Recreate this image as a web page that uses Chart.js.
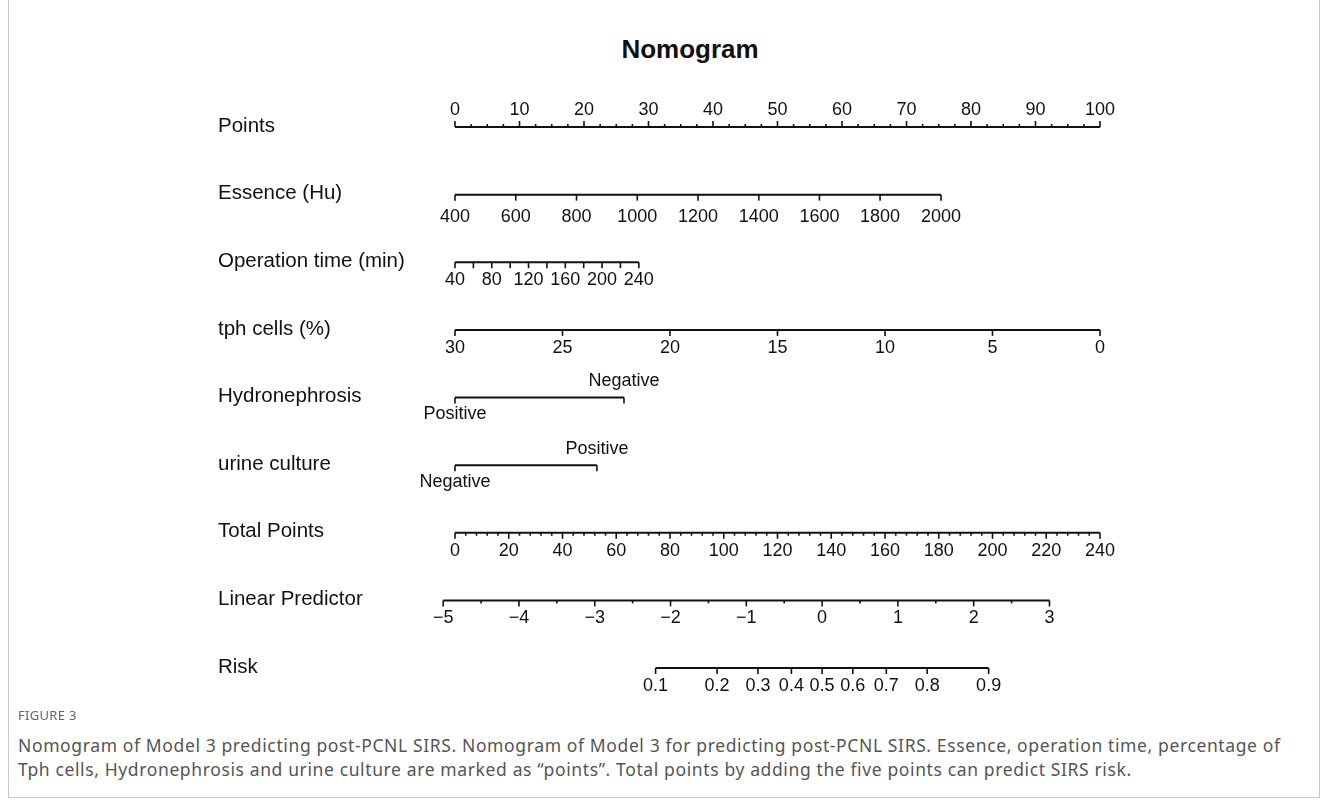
<!DOCTYPE html>
<html>
<head>
<meta charset="utf-8">
<script src="https://cdn.jsdelivr.net/npm/chart.js@4.4.1/dist/chart.umd.min.js"></script>
<style>
  html, body { margin: 0; padding: 0; background: #fff; }
  #frame { position: absolute; left: 8px; top: -2px; width: 1312px; height: 800px; border: 1px solid #c9c9c9; box-sizing: border-box; }
  #title { position: absolute; left: 0; top: 34px; width: 1380px; text-align: center; font: bold 26px "Liberation Sans", Arial, sans-serif; color: #111; }
  #wrap { position: absolute; left: 0; top: 0; width: 1328px; height: 710px; }
  #figno { position: absolute; left: 18px; top: 706px; font: 13px "Noto Sans", sans-serif; color: #666; letter-spacing: 0.3px; }
  #caption { position: absolute; left: 18px; top: 733px; width: 1300px; white-space: nowrap; font: 17.5px/24px "Noto Sans", sans-serif; letter-spacing: 0.62px; color: #555; }
</style>
</head>
<body>
<div id="frame"></div>
<div id="title">Nomogram</div>
<div id="wrap"><canvas id="nomo"></canvas></div>
<div id="figno">FIGURE 3</div>
<div id="caption">Nomogram of Model 3 predicting post-PCNL SIRS. Nomogram of Model 3 for predicting post-PCNL SIRS. Essence, operation time, percentage of<br>Tph cells, Hydronephrosis and urine culture are marked as “points”. Total points by adding the five points can predict SIRS risk.</div>
<script>
// ── DATA ───────────────────────────────────────────────────────────────────
const rowNames = ["Points", "Essence (Hu)", "Operation time (min)", "tph cells (%)",
  "Hydronephrosis", "urine culture", "Total Points", "Linear Predictor", "Risk"];

const pointsTicks = [0, 10, 20, 30, 40, 50, 60, 70, 80, 90, 100];
const pointsMinorStep = 2.5;

const essenceValues = [400, 600, 800, 1000, 1200, 1400, 1600, 1800, 2000];
const essencePoints = [0, 9.42, 18.84, 28.26, 37.68, 47.1, 56.5, 65.9, 75.35];

const opTimeValues = [40, 60, 80, 100, 120, 140, 160, 180, 200, 220, 240];
const opTimePoints = [0, 2.85, 5.7, 8.55, 11.4, 14.25, 17.1, 19.95, 22.8, 25.65, 28.5];
const opTimeLabelled = [40, 80, 120, 160, 200, 240];

const tphValues = [30, 25, 20, 15, 10, 5, 0];
const tphPoints = [0, 16.67, 33.33, 50, 66.67, 83.33, 100];

const hydroLevels = ["Positive", "Negative"];
const hydroPoints = [0, 26.2];

const urineLevels = ["Negative", "Positive"];
const urinePoints = [0, 22.0];

const totalTicks = [0, 20, 40, 60, 80, 100, 120, 140, 160, 180, 200, 220, 240];
const totalMinorStep = 4;
const totalMax = 240;

const lpTicks = [-5, -4, -3, -2, -1, 0, 1, 2, 3];
const lpMinorStep = 0.5;
const lpZeroTotal = 136.6;   // total points where the linear predictor is 0
const totalPerLp = 28.2;     // total points per unit of linear predictor

const riskTicks = [0.1, 0.2, 0.3, 0.4, 0.5, 0.6, 0.7, 0.8, 0.9];

// ── HELPERS ────────────────────────────────────────────────────────────────
const totalToX = t => t * 100 / totalMax;
const lpToX = lp => totalToX(lpZeroTotal + lp * totalPerLp);
const riskToX = p => lpToX(Math.log(p / (1 - p)));

function minorRange(a, b, step) {
  const out = [];
  for (let v = a; v <= b + 1e-9; v += step) out.push(+v.toFixed(4));
  return out;
}

// each row: ticks {x, label, major}, labels up / down
const rows = [
  { up: true, ticks: minorRange(0, 100, pointsMinorStep).map(v => ({ x: v, major: pointsTicks.includes(v), label: pointsTicks.includes(v) ? String(v) : null })) },
  { ticks: essenceValues.map((v, i) => ({ x: essencePoints[i], major: true, label: String(v) })), off: 22 },
  { ticks: opTimeValues.map((v, i) => ({ x: opTimePoints[i], major: true, label: opTimeLabelled.includes(v) ? String(v) : null })) },
  { ticks: tphValues.map((v, i) => ({ x: tphPoints[i], major: true, label: String(v) })) },
  { cat: true, ticks: hydroLevels.map((v, i) => ({ x: hydroPoints[i], major: true, label: v })) },
  { cat: true, ticks: urineLevels.map((v, i) => ({ x: urinePoints[i], major: true, label: v })) },
  { ticks: minorRange(0, totalMax, totalMinorStep).map(v => ({ x: totalToX(v), major: totalTicks.includes(v), label: totalTicks.includes(v) ? String(v) : null })) },
  { ticks: minorRange(-5, 3, lpMinorStep).map(v => ({ x: lpToX(v), major: lpTicks.includes(v), label: lpTicks.includes(v) ? String(v).replace("-", "\u2212") : null })) },
  { ticks: riskTicks.map(p => ({ x: riskToX(p), major: true, label: String(p) })) },
];

const lineData = rows.map((r, i) => {
  const xs = r.ticks.map(t => t.x);
  return [{ x: Math.min(...xs), y: i }, { x: Math.max(...xs), y: i }];
});

// ── TICKS, LABELS, ROW NAMES ───────────────────────────────────────────────
const nomoPlugin = {
  id: "nomoAxes",
  afterDatasetsDraw(chart) {
    const { ctx, scales: { x, y } } = chart;
    ctx.save();
    ctx.strokeStyle = "#111";
    ctx.fillStyle = "#111";
    ctx.lineWidth = 1.6;
    rows.forEach((r, i) => {
      const py = y.getPixelForValue(i);
      ctx.font = '20.5px "Liberation Sans", Arial, sans-serif';
      ctx.textAlign = "left";
      ctx.textBaseline = "middle";
      ctx.fillText(rowNames[i], 218, py - 1);

      ctx.font = '18px "Liberation Sans", Arial, sans-serif';
      ctx.textAlign = "center";
      r.ticks.forEach((t, k) => {
        const px = x.getPixelForValue(t.x);
        const len = t.major ? 6 : 3;
        const dir = r.up ? -1 : 1;
        ctx.beginPath();
        ctx.moveTo(px, py);
        ctx.lineTo(px, py + dir * len);
        ctx.stroke();
        if (!t.label) return;
        let ly;
        if (r.cat) ly = k === 0 ? py + 17 : py - 16;
        else if (r.up) ly = py - 17;
        else ly = py + (r.off || 18);
        ctx.fillText(t.label, px, ly);
      });
    });
    ctx.restore();
  }
};

new Chart(document.getElementById("nomo"), {
  type: "line",
  data: {
    datasets: lineData.map((d, i) => ({
      label: rowNames[i], data: d,
      borderColor: "#111", borderWidth: 2,
      pointRadius: 0, fill: false, clip: false,
    })),
  },
  options: {
    responsive: true, maintainAspectRatio: false, animation: false,
    layout: { padding: { left: 455, right: 228, top: 127, bottom: 42 } },
    plugins: { legend: { display: false }, tooltip: { enabled: false } },
    scales: {
      x: { type: "linear", min: 0, max: 100, display: false },
      y: { type: "linear", min: 0, max: 8, reverse: true, display: false },
    },
  },
  plugins: [nomoPlugin],
});
</script>
</body>
</html>
